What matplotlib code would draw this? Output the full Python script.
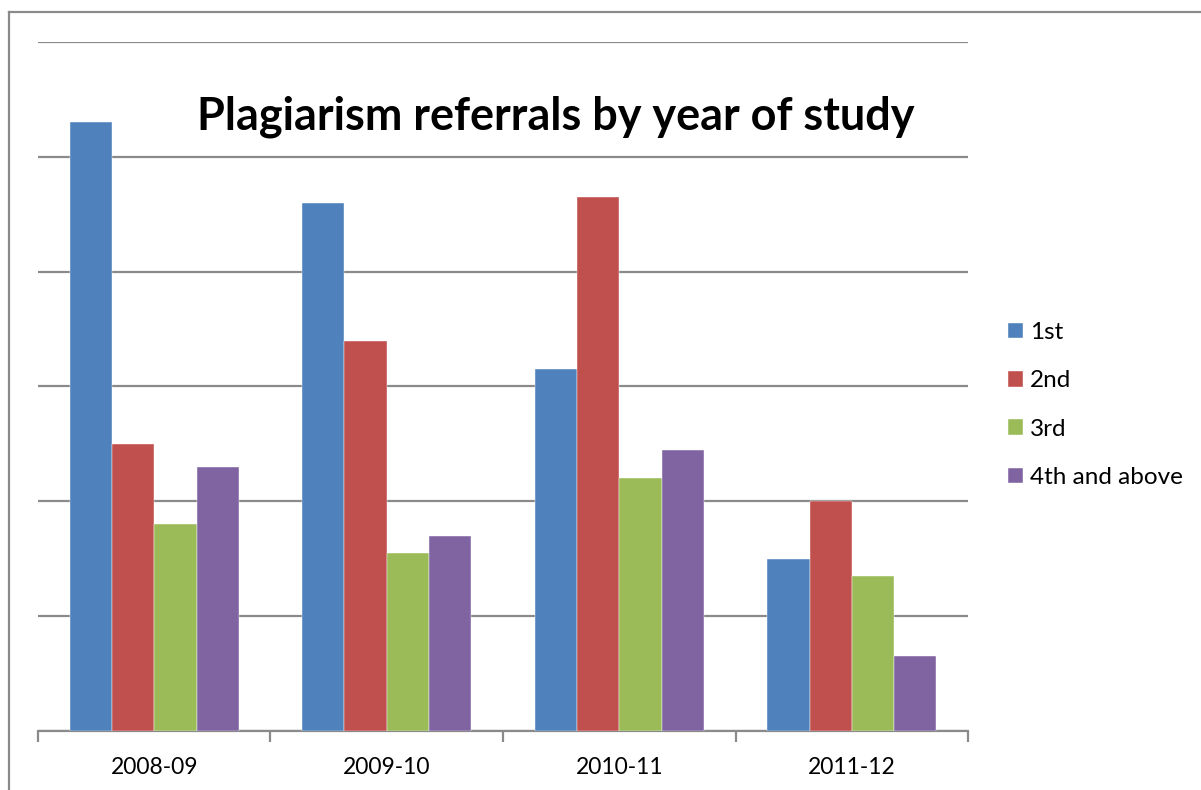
import numpy as np
import matplotlib
matplotlib.use("Agg")
import matplotlib.pyplot as plt
from matplotlib.lines import Line2D

plt.rcParams['font.family'] = ['Lato', 'DejaVu Sans']

years = ['2008-09', '2009-10', '2010-11', '2011-12']
series = ['1st', '2nd', '3rd', '4th and above']
first = [106, 92, 63, 30]
second = [50, 68, 93, 40]
third = [36, 31, 44, 27]
fourth = [46, 34, 49, 13]
colors = ['#4F81BD', '#C0504D', '#9BBB59', '#8064A2']

fig = plt.figure(figsize=(12.01, 7.90), dpi=100)
ax = fig.add_axes([0.0316, 0.0747, 0.7745, 0.8722])

x = np.arange(len(years))
w = 1 / 5.5
for i, vals in enumerate([first, second, third, fourth]):
    ax.bar(x + (i - 1.5) * w, vals, width=w, color=colors[i], label=series[i],
           edgecolor='white', linewidth=0.3, zorder=3)

ax.set_xlim(-0.5, 3.5)
ax.set_ylim(0, 120)
ax.set_yticks(np.arange(0, 121, 20))
ax.set_yticklabels([])
ax.tick_params(axis='y', length=0)
ax.yaxis.grid(True, color='#8a8a8a', linewidth=1.6, zorder=0)
ax.set_axisbelow(True)

ax.set_xticks(x)
ax.set_xticklabels(years, fontsize=16.5)
ax.set_xticks(np.arange(-0.5, 3.6, 1), minor=True)
ax.tick_params(axis='x', which='major', length=0, pad=19)
ax.tick_params(axis='x', which='minor', length=8, width=1.6, color='#8a8a8a')
for s in ['top', 'right', 'left']:
    ax.spines[s].set_visible(False)
ax.spines['bottom'].set_color('#8a8a8a')
ax.spines['bottom'].set_linewidth(1.6)

fig.text(0.4625, 0.836, 'Plagiarism referrals by year of study', fontsize=32.4,
         fontweight='bold', ha='center', va='baseline')

ax.legend(loc='center left', bbox_to_anchor=(1.0196, 0.473), frameon=False,
          fontsize=17.5, handlelength=0.6, handleheight=0.6, handletextpad=0.3,
          labelspacing=1.12)

# chart area border
fig.add_artist(Line2D([0.0075, 1], [0.985, 0.985], color='#8a8a8a', linewidth=1.6))
fig.add_artist(Line2D([0.0075, 0.0075], [0, 0.985], color='#8a8a8a', linewidth=1.6))

fig.savefig('out.png', dpi=100)
